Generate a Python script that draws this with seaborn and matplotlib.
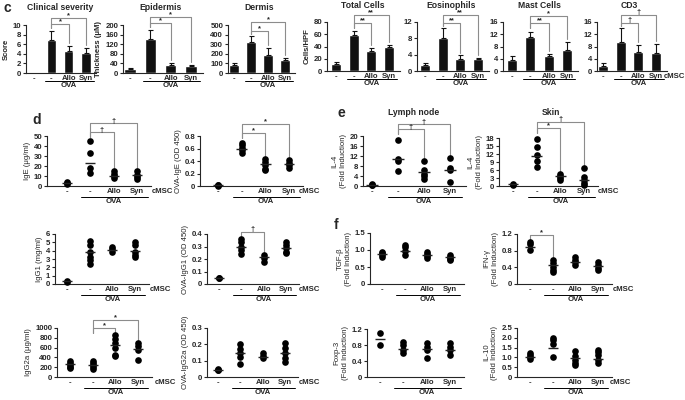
import numpy as np
import pandas as pd
import seaborn as sns
import matplotlib.pyplot as plt

sns.set_style('ticks')
plt.rcParams['font.family'] = ['Liberation Sans', 'DejaVu Sans']
plt.rcParams['axes.linewidth'] = 0.8

groups = ['ctrl', 'ova', 'allo', 'syn']
tick_labels = ['-', '-', 'Allo', 'Syn']

# ---- c: bar charts (mean and upper error) ----
severity_mean = [0, 6.9, 4.5, 4.1]
severity_err = [0, 1.9, 1.2, 1.2]
epidermis_mean = [15, 143, 32, 30]
epidermis_err = [4, 37, 9, 3]
dermis_mean = [85, 320, 190, 135]
dermis_err = [15, 65, 70, 20]
total_mean = [12, 58, 32, 40]
total_err = [3, 8, 5, 2]
eos_mean = [1.5, 8, 3, 3]
eos_err = [0.5, 2.5, 0.8, 0.3]
mast_mean = [3.5, 11.2, 4.8, 7]
mast_err = [1.3, 1.6, 0.7, 2.5]
cd3_mean = [1.5, 9.5, 6.2, 6.0]
cd3_err = [1.0, 4.5, 2.3, 2.7]

# ---- d/e/f: individual points and group means ----
ige_pts = [[4, 3, 2.3], [45, 33, 18, 13], [15, 12, 10, 8], [15, 11, 9, 7]]
ige_mean = [3, 23, 10, 11]
ova_ige_pts = [[0.02, 0.01, 0.0], [0.69, 0.65, 0.61, 0.57, 0.53],
               [0.44, 0.38, 0.33, 0.28, 0.25], [0.41, 0.37, 0.33, 0.29]]
ova_ige_mean = [0.01, 0.6, 0.35, 0.35]
il4_ln_pts = [[0.8, 0.5, 0.3], [18.5, 11, 10, 6], [10, 6.3, 5, 3.9, 3], [11.2, 7.2, 6.3, 1.6]]
il4_ln_mean = [0.5, 11, 5.8, 6.4]
il4_skin_pts = [[0.8, 0.5], [17.5, 14.5, 11.5, 9.5, 7.2], [4.6, 3.8, 3.1, 2.2],
                [6.8, 3.2, 2.3, 1.2, 0.2]]
il4_skin_mean = [0.6, 11.3, 3.6, 2.2]
igg1_pts = [[0.4, 0.3], [5.2, 4.7, 3.9, 3.3, 2.9, 2.4], [4.5, 4.2, 3.9], [5.0, 4.7, 3.9, 3.5, 3.3]]
igg1_mean = [0.35, 3.8, 4.1, 4.0]
ova_igg1_pts = [[0.05, 0.045], [0.36, 0.34, 0.3, 0.27, 0.24], [0.23, 0.205, 0.18],
                [0.34, 0.31, 0.29, 0.26, 0.25]]
ova_igg1_mean = [0.05, 0.3, 0.215, 0.29]
tgf_pts = [[0.95, 0.9, 0.85, 0.8], [1.15, 1.08, 0.96, 0.86], [0.95, 0.88, 0.82, 0.76],
           [0.85, 0.8, 0.75, 0.7]]
tgf_mean = [0.88, 0.96, 0.84, 0.78]
ifn_pts = [[1.0, 0.95, 0.82], [0.58, 0.5, 0.42, 0.34, 0.28], [0.66, 0.58, 0.52, 0.46],
           [0.54, 0.46, 0.38, 0.33]]
ifn_mean = [0.9, 0.46, 0.54, 0.44]
igg2a_pts = [[320, 290, 250, 210, 180], [320, 290, 250, 200, 170],
             [860, 770, 690, 590, 455, 420], [690, 630, 560, 340]]
igg2a_mean = [260, 250, 660, 580]
ova_igg2a_pts = [[0.05, 0.045, 0.04], [0.2, 0.17, 0.15, 0.12, 0.08], [0.147, 0.13, 0.116],
                 [0.21, 0.18, 0.147, 0.116, 0.09]]
ova_igg2a_mean = [0.045, 0.147, 0.12, 0.15]
foxp3_pts = [[1.09, 0.79], [0.88, 0.8, 0.68, 0.6], [0.84, 0.76, 0.68, 0.47], [0.84, 0.76, 0.68, 0.55]]
foxp3_mean = [0.94, 0.69, 0.69, 0.68]
il10_pts = [[1.22, 1.14, 1.02, 0.92], [2.0, 1.88, 1.7, 1.02], [1.31, 1.05, 0.88, 0.71, 0.63],
            [1.39, 1.26, 1.14, 0.88, 0.71]]
il10_mean = [1.02, 1.48, 0.97, 0.92]

W, H = 685, 400
fig = plt.figure(figsize=(W / 100, H / 100), dpi=100)
FS = 5.6


def make_axes(px):
    x_axis, x_first, x_last, y_top, y_zero = px
    step = (x_last - x_first) / 3
    x_right = x_last + 0.6 * step
    ax = fig.add_axes([x_axis / W, 1 - y_zero / H, (x_right - x_axis) / W, (y_zero - y_top) / H])
    lim = (-(x_first - x_axis) / step, (x_right - x_first) / step)
    return ax, lim, step


def to_frac(p, ypx):
    y_top, y_zero = p['px'][3], p['px'][4]
    return (y_zero - ypx) / (y_zero - y_top)


def decorate(ax, lim, step, p):
    hpx = p['px'][4] - p['px'][3]
    ax.set_xlim(lim)
    ax.set_ylim(0, p['ymax'])
    ax.set_yticks(p['yticks'])
    ax.set_yticklabels(p['ylabels'], fontsize=FS, fontweight='bold')
    ax.set_xticks(range(4))
    ax.set_xticklabels(tick_labels, fontsize=FS, fontweight='bold')
    ax.tick_params(axis='x', length=0, pad=1.5)
    ax.tick_params(axis='y', length=2, width=0.8, pad=1.5)
    ax.set_xlabel('')
    ax.set_ylabel(p['ylabel'], fontsize=FS, fontweight=p.get('yw', 'bold'), labelpad=2)
    sns.despine(ax=ax)
    # OVA underline and label
    tr = ax.get_xaxis_transform()
    uy = -p['under'] / hpx
    ax.plot([0.62, 3.45], [uy, uy], color='black', lw=0.7, transform=tr, clip_on=False)
    ax.text(2.0, uy - 1.2 / hpx, 'OVA', transform=tr, ha='center', va='top',
            fontsize=FS, fontweight='bold')
    if p.get('cmsc'):
        ax.annotate('cMSC', xy=(3 + p['cmsc'] / step, 0), xycoords=tr, xytext=(0, -1.1),
                    textcoords='offset points', ha='center', va='top',
                    fontsize=FS, fontweight='bold')
    if p.get('title'):
        ax.text(p.get('tx', 1.5), to_frac(p, p['ty']), p['title'], transform=tr, ha='center',
                va='center', fontsize=6.2, fontweight='bold')


def brackets(ax, p, tops):
    ymax = p['ymax']
    tr = ax.get_xaxis_transform()
    levels = [to_frac(p, v) for v in p['levels']]
    for (i, j, sym), lev in zip(p['sig'], levels):
        src = max(tops[i] / ymax + 0.05, min(levels) - 0.1)
        dst = tops[j] / ymax + 0.06
        ax.plot([i, i, j, j], [src, lev, lev, dst], color='#8c8c8c', lw=0.8,
                transform=tr, clip_on=False)
        ax.text((i + j) / 2, lev - 0.03, sym, transform=tr, ha='center', va='bottom',
                fontsize=5.4, fontweight='bold')


bar_panels = [
    dict(mean=severity_mean, err=severity_err, title='Clinical severity', ylabel='Score',
         ymax=10, yticks=[0, 2, 4, 6, 8, 10], px=(26, 34, 86, 25, 73), ty=7,
         sig=[(1, 2, '*'), (1, 3, '*')], levels=[24, 18]),
    dict(mean=epidermis_mean, err=epidermis_err, title='Epidermis', ylabel='Thickness (\u03bcM)',
         ymax=200, yticks=[0, 40, 80, 120, 160, 200], px=(123, 130, 191, 25, 73), ty=7,
         sig=[(1, 2, '*'), (1, 3, '*')], levels=[23, 17]),
    dict(mean=dermis_mean, err=dermis_err, title='Dermis', ylabel='',
         ymax=500, yticks=[0, 100, 200, 300, 400, 500], px=(228, 234, 285, 25, 73), ty=7,
         sig=[(1, 2, '*'), (1, 3, '*')], levels=[31, 22]),
    dict(mean=total_mean, err=total_err, title='Total Cells', ylabel='Cells/HPF',
         ymax=80, yticks=[0, 20, 40, 60, 80], px=(327, 336, 389, 22, 71), ty=5,
         sig=[(1, 2, '**'), (1, 3, '**')], levels=[23, 15]),
    dict(mean=eos_mean, err=eos_err, title='Eosinophils', ylabel='',
         ymax=12, yticks=[0, 4, 8, 12], px=(417, 425, 478, 22, 71), ty=5,
         sig=[(1, 2, '**'), (1, 3, '**')], levels=[23, 15]),
    dict(mean=mast_mean, err=mast_err, title='Mast Cells', ylabel='',
         ymax=16, yticks=[0, 4, 8, 12, 16], px=(503, 512, 567, 22, 71), ty=5,
         sig=[(1, 2, '**'), (1, 3, '*')], levels=[23, 16]),
    dict(mean=cd3_mean, err=cd3_err, title='CD3', ylabel='', cmsc=18,
         ymax=16, yticks=[0, 4, 8, 12, 16], px=(597, 603, 656, 22, 71), ty=5,
         sig=[(1, 2, '\u2020'), (1, 3, '\u2020')], levels=[23, 15]),
]

for p in bar_panels:
    p['ylabels'] = [str(v) for v in p['yticks']]
    p['under'] = 8
    ax, lim, step = make_axes(p['px'])
    sns.barplot(x=groups, y=p['mean'], order=groups, color='#111111', saturation=1,
                width=0.55, ax=ax)
    m = np.array(p['mean'], float)
    e = np.array(p['err'], float)
    keep = m > 0
    ax.errorbar(np.arange(4)[keep], m[keep], yerr=[np.zeros(keep.sum()), e[keep]],
                fmt='none', ecolor='#111111', elinewidth=0.8, capsize=1.8, capthick=0.8,
                clip_on=False)
    decorate(ax, lim, step, p)
    brackets(ax, p, m + e)


def lbl(vals, fmt):
    return ['0' if v == 0 else fmt.format(v) for v in vals]


dot_panels = [
    dict(pts=ige_pts, mean=ige_mean, ylabel='IgE (\u03bcg/ml)', ymax=50,
         yticks=[0, 10, 20, 30, 40, 50], fmt='{:.0f}', px=(47, 67, 137, 136, 186), cmsc=25,
         sig=[(1, 2, '\u2020'), (1, 3, '\u2020')], levels=[132, 123]),
    dict(pts=ova_ige_pts, mean=ova_ige_mean, ylabel='OVA-IgE (OD 450)', ymax=0.8,
         yticks=[0, 0.2, 0.4, 0.6, 0.8], fmt='{:.1f}', px=(200, 218, 289, 136, 186), cmsc=20,
         sig=[(1, 2, '*'), (1, 3, '*')], levels=[133, 124]),
    dict(pts=il4_ln_pts, mean=il4_ln_mean, ylabel='IL-4\n(Fold Induction)', ymax=20,
         yticks=[0, 4, 8, 12, 16, 20], fmt='{:.0f}', px=(363, 372, 450, 136, 186),
         sig=[(1, 2, '\u2020'), (1, 3, '\u2020')], levels=[129, 124],
         title='Lymph node', ty=112, tx=1.6),
    dict(pts=il4_skin_pts, mean=il4_skin_mean, ylabel='IL-4\n(Fold Induction)', ymax=18,
         yticks=[0, 3, 6, 9, 12, 15, 18], fmt='{:.0f}', px=(499, 513, 584, 138, 186), cmsc=24,
         sig=[(1, 2, '*'), (1, 3, '\u2020')], levels=[128, 122],
         title='Skin', ty=112, tx=1.6),
    dict(pts=igg1_pts, mean=igg1_mean, ylabel='IgG1 (mg/ml)', ymax=6,
         yticks=[0, 1, 2, 3, 4, 5, 6], fmt='{:.0f}', px=(55, 67, 135, 234, 284), cmsc=25,
         sig=[], levels=[]),
    dict(pts=ova_igg1_pts, mean=ova_igg1_mean, ylabel='OVA-IgG1 (OD 450)', ymax=0.4,
         yticks=[0, 0.1, 0.2, 0.3, 0.4], fmt='{:.1f}', px=(207, 219, 286, 234, 284), cmsc=23,
         sig=[(1, 2, '\u2020')], levels=[232]),
    dict(pts=tgf_pts, mean=tgf_mean, ylabel='TGF-\u03b2\n(Fold Induction)', ymax=1.5,
         yticks=[0, 0.5, 1.0, 1.5], fmt='{:.1f}', px=(370, 382, 450, 233, 284),
         sig=[], levels=[]),
    dict(pts=ifn_pts, mean=ifn_mean, ylabel='IFN-\u03b3\n(Fold Induction)', ymax=1.2,
         yticks=[0, 0.4, 0.8, 1.2], fmt='{:.1f}', px=(517, 530, 598, 234, 284), cmsc=25,
         sig=[(0, 1, '*')], levels=[235]),
    dict(pts=igg2a_pts, mean=igg2a_mean, ylabel='IgG2a (\u03bcg/ml)', ymax=1000,
         yticks=[0, 200, 400, 600, 800, 1000], fmt='{:.0f}', px=(57, 70, 138, 328, 377), cmsc=27,
         sig=[(1, 2, '*'), (1, 3, '*')], levels=[328, 320]),
    dict(pts=ova_igg2a_pts, mean=ova_igg2a_mean, ylabel='OVA-IgG2a (OD 450)', ymax=0.3,
         yticks=[0, 0.1, 0.2, 0.3], fmt='{:.1f}', px=(207, 218, 285, 328, 377), cmsc=24,
         sig=[], levels=[]),
    dict(pts=foxp3_pts, mean=foxp3_mean, ylabel='Foxp-3\n(Fold Induction)', ymax=1.2,
         yticks=[0, 0.4, 0.8, 1.2], fmt='{:.1f}', px=(367, 380, 450, 329, 377),
         sig=[], levels=[]),
    dict(pts=il10_pts, mean=il10_mean, ylabel='IL-10\n(Fold Induction)', ymax=2.5,
         yticks=[0, 0.5, 1.0, 1.5, 2.0, 2.5], fmt='{:.1f}', px=(517, 530, 598, 328, 377), cmsc=22,
         sig=[], levels=[]),
]

for p in dot_panels:
    p['ylabels'] = lbl(p['yticks'], p['fmt'])
    p['yw'] = 'normal'
    p['under'] = 11
    ax, lim, step = make_axes(p['px'])
    df = pd.DataFrame([(g, v) for g, vals in zip(groups, p['pts']) for v in vals],
                      columns=['group', 'value'])
    sns.stripplot(data=df, x='group', y='value', order=groups, jitter=False, color='black',
                  size=4.8, linewidth=0, ax=ax, clip_on=False, zorder=3)
    ax.hlines(p['mean'], np.arange(4) - 0.22, np.arange(4) + 0.22, color='#222222',
              lw=1.0, zorder=4, clip_on=False)
    decorate(ax, lim, step, p)
    tops = [max(v) for v in p['pts']]
    if p['sig']:
        brackets(ax, p, tops)

for letter, x, y in [('c', 3, 8), ('d', 32, 120), ('e', 337, 113), ('f', 334, 225)]:
    fig.text(x / W, 1 - y / H, letter, fontsize=10, fontweight='bold', va='center', ha='left')

fig.savefig('out.png', dpi=100)
